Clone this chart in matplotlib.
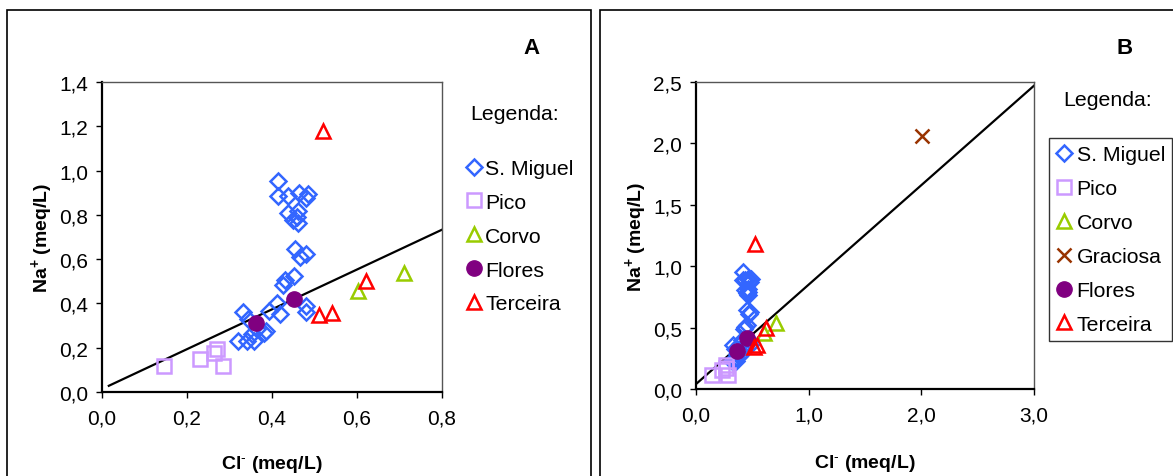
import numpy as np
import matplotlib
matplotlib.use('Agg')
import matplotlib.pyplot as plt
from matplotlib.patches import Rectangle
from matplotlib.ticker import FuncFormatter, MultipleLocator

plt.rcParams['font.family'] = ['Liberation Sans', 'DejaVu Sans']
plt.rcParams['mathtext.fontset'] = 'custom'
plt.rcParams['mathtext.rm'] = 'Liberation Sans'
plt.rcParams['mathtext.bf'] = 'Liberation Sans:bold'

# dados (Cl-, Na+) em meq/L
smiguel_cl = [0.415, 0.414, 0.437, 0.464, 0.485, 0.479, 0.438, 0.462, 0.458, 0.450,
              0.462, 0.454, 0.480, 0.467, 0.452, 0.431, 0.427, 0.411, 0.392, 0.419,
              0.479, 0.481, 0.331, 0.344, 0.380, 0.364, 0.321, 0.340, 0.357, 0.352, 0.387]
smiguel_na = [0.954, 0.885, 0.885, 0.897, 0.893, 0.875, 0.808, 0.816, 0.792, 0.778,
              0.763, 0.646, 0.625, 0.610, 0.523, 0.505, 0.485, 0.400, 0.365, 0.351,
              0.388, 0.361, 0.361, 0.328, 0.268, 0.283, 0.231, 0.231, 0.231, 0.261, 0.275]
pico_cl = [0.146, 0.231, 0.270, 0.264, 0.284]
pico_na = [0.118, 0.151, 0.193, 0.175, 0.118]
corvo_cl = [0.602, 0.711]
corvo_na = [0.455, 0.538]
graciosa_cl = [2.01]
graciosa_na = [2.058]
flores_cl = [0.362, 0.452]
flores_na = [0.313, 0.418]
terceira_cl = [0.521, 0.511, 0.542, 0.620]
terceira_na = [1.177, 0.346, 0.358, 0.500]

# rectas
line_a_x = [0.016, 0.8]
line_a_y = [0.028, 0.733]
line_b_x = [0.0, 3.0]
line_b_y = [0.04, 2.47]

W, H = 1173, 477
fig = plt.figure(figsize=(W / 100, H / 100), dpi=100)


def px(x0, y0, x1, y1):
    # caixa em pixeis -> coordenadas da figura
    return [x0 / W, 1 - y1 / H, (x1 - x0) / W, (y1 - y0) / H]


def comma(v, pos):
    return f'{v:.1f}'.replace('.', ',')


def style_ax(ax, xmax, ymax, xstep, ystep, xpad):
    ax.set_xlim(0, xmax)
    ax.set_ylim(0, ymax)
    ax.xaxis.set_major_locator(MultipleLocator(xstep))
    ax.yaxis.set_major_locator(MultipleLocator(ystep))
    ax.xaxis.set_major_formatter(FuncFormatter(comma))
    ax.yaxis.set_major_formatter(FuncFormatter(comma))
    for s in ['left', 'bottom']:
        ax.spines[s].set_linewidth(1.6)
        ax.spines[s].set_color('black')
    for s in ['top', 'right']:
        ax.spines[s].set_linewidth(1.0)
        ax.spines[s].set_color('#555555')
    ax.tick_params(direction='out', length=4, width=1, labelsize=15, colors='black')
    ax.tick_params(axis='x', pad=8)
    ax.tick_params(axis='y', pad=6)
    ax.set_xlabel(r'$\mathbf{Cl^{\text{-}}}$ (meq/L)', fontsize=14, fontweight='bold', labelpad=xpad)
    ax.set_ylabel(r'$\mathbf{Na^{+}}$ (meq/L)', fontsize=14, fontweight='bold', labelpad=3)


def draw(ax, with_graciosa):
    ax.plot(smiguel_cl, smiguel_na, 'D', ls='none', ms=8, mfc='none', mec='#3366FF', mew=1.8,
            label='S. Miguel', clip_on=False)
    ax.plot(pico_cl, pico_na, 's', ls='none', ms=10, mfc='none', mec='#CC99FF', mew=1.8,
            label='Pico', clip_on=False)
    ax.plot(corvo_cl, corvo_na, '^', ls='none', ms=10, mfc='none', mec='#99CC00', mew=1.8,
            label='Corvo', clip_on=False)
    if with_graciosa:
        ax.plot(graciosa_cl, graciosa_na, 'x', ls='none', ms=10, mec='#993300', mew=1.8,
                label='Graciosa', clip_on=False)
    ax.plot(flores_cl, flores_na, 'o', ls='none', ms=11, mfc='#800080', mec='#800080',
            label='Flores', clip_on=False)
    ax.plot(terceira_cl, terceira_na, '^', ls='none', ms=10, mfc='none', mec='#FF0000', mew=1.8,
            label='Terceira', clip_on=False)


# painel A
axA = fig.add_axes(px(102, 83, 442, 393))
axA.plot(line_a_x, line_a_y, color='black', lw=1.6, zorder=1)
draw(axA, False)
style_ax(axA, 0.8, 1.4, 0.2, 0.2, 18)
legA = axA.legend(loc='upper left', bbox_to_anchor=(463 / W, 1 - 160 / H), bbox_transform=fig.transFigure,
                  frameon=False, fontsize=15.3, borderpad=0, borderaxespad=0, handlelength=1.0,
                  handletextpad=0.05, labelspacing=0.7)
fig.text(515 / W, 1 - 115 / H, 'Legenda:', fontsize=15.3, ha='center', va='center')
fig.text(532 / W, 1 - 49 / H, 'A', fontsize=16, fontweight='bold', ha='center', va='center')

# painel B
axB = fig.add_axes(px(696, 83, 1034, 390))
axB.plot(line_b_x, line_b_y, color='black', lw=1.6, zorder=1)
draw(axB, True)
style_ax(axB, 3.0, 2.5, 1.0, 0.5, 20)
legB = axB.legend(loc='upper left', bbox_to_anchor=(1049 / W, 1 - 139 / H), bbox_transform=fig.transFigure,
                  frameon=True, fancybox=False, edgecolor='black', fontsize=15.3, borderpad=0.35,
                  borderaxespad=0, handlelength=0.75, handletextpad=0.2, labelspacing=0.7)
legB.get_frame().set_linewidth(1.0)
fig.text(1108 / W, 1 - 100 / H, 'Legenda:', fontsize=15.3, ha='center', va='center')
fig.text(1125 / W, 1 - 48 / H, 'B', fontsize=16, fontweight='bold', ha='center', va='center')

# molduras exteriores
fig.add_artist(Rectangle((7 / W, -0.05), (591 - 7) / W, 1.05 - 11 / H, transform=fig.transFigure,
                         fill=False, edgecolor='black', lw=1.2))
fig.add_artist(Rectangle((600 / W, -0.05), 0.5, 1.05 - 11 / H, transform=fig.transFigure,
                         fill=False, edgecolor='black', lw=1.2))

fig.savefig('out.png', dpi=100)
